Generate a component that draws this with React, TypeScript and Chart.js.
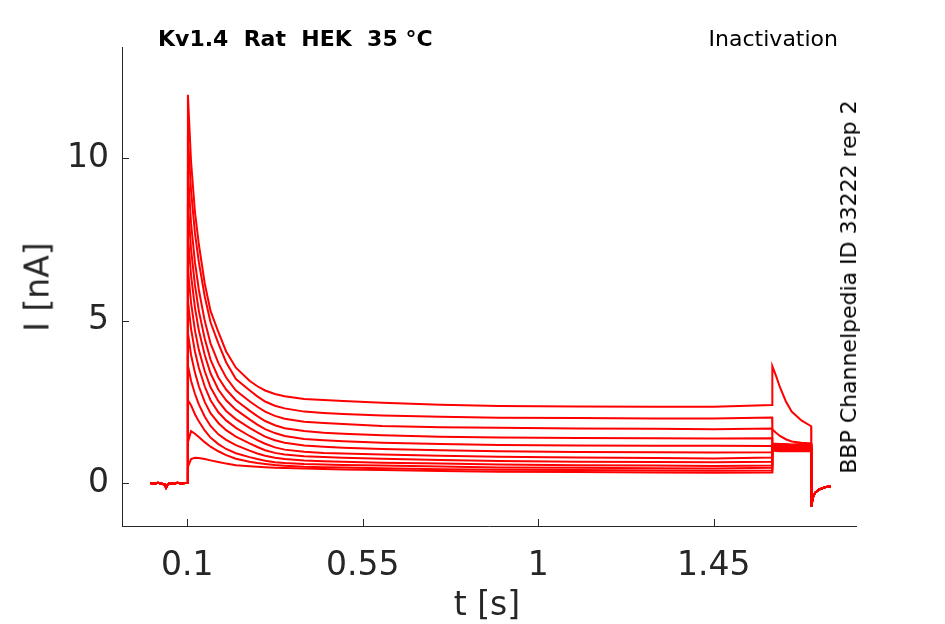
import { useEffect, useRef } from 'react';
import { Chart, registerables } from 'chart.js';

Chart.register(...registerables);

// holding level before the step (shared by all sweeps)
const baseT = [0.005, 0.015, 0.025, 0.035, 0.042, 0.046, 0.05, 0.055, 0.065, 0.075, 0.085, 0.095, 0.0995];
const baseI = [0.0, -0.02, 0.01, -0.02, -0.04, -0.14, -0.05, 0.0, -0.02, 0.01, -0.01, 0.0, 0.0];

// test step (0.1 - 1.6 s) followed by the tail step (1.6 - 1.7 s)
const stepT = [
  0.1, 0.102, 0.11, 0.12, 0.13, 0.145, 0.16, 0.18, 0.2, 0.225, 0.26, 0.28, 0.3, 0.325, 0.35, 0.4, 0.45, 0.5,
  0.6, 0.75, 0.9, 1.1, 1.3, 1.45, 1.6,
  1.6005, 1.61, 1.62, 1.635, 1.65, 1.675, 1.7,
];

const sweep01 = [0, 0.5, 0.74, 0.78, 0.77, 0.74, 0.7, 0.65, 0.6, 0.55, 0.52, 0.505, 0.49, 0.475, 0.465, 0.45, 0.435, 0.42, 0.4, 0.37, 0.35, 0.34, 0.33, 0.32, 0.33, 1.0, 0.99, 0.98, 0.98, 0.98, 0.98, 0.98];
const sweep02 = [0, 1.25, 1.6, 1.52, 1.42, 1.26, 1.12, 0.98, 0.86, 0.75, 0.66, 0.62, 0.59, 0.555, 0.535, 0.505, 0.49, 0.48, 0.46, 0.43, 0.41, 0.4, 0.39, 0.38, 0.39, 1.04, 1.03, 1.02, 1.02, 1.02, 1.02, 1.02];
const sweep03 = [0, 2.55, 2.4, 2.12, 1.9, 1.62, 1.4, 1.2, 1.05, 0.92, 0.8, 0.74, 0.69, 0.645, 0.615, 0.585, 0.57, 0.56, 0.54, 0.51, 0.48, 0.47, 0.46, 0.45, 0.47, 1.07, 1.06, 1.05, 1.05, 1.05, 1.05, 1.05];
const sweep04 = [0, 3.62, 3.15, 2.75, 2.42, 2.05, 1.76, 1.5, 1.33, 1.17, 1.0, 0.91, 0.84, 0.78, 0.74, 0.695, 0.675, 0.66, 0.63, 0.6, 0.57, 0.55, 0.54, 0.53, 0.54, 1.1, 1.09, 1.08, 1.08, 1.07, 1.08, 1.08];
const sweep05 = [0, 4.62, 3.95, 3.4, 2.98, 2.5, 2.15, 1.85, 1.63, 1.43, 1.22, 1.11, 1.01, 0.93, 0.88, 0.825, 0.8, 0.78, 0.75, 0.71, 0.68, 0.66, 0.65, 0.64, 0.66, 1.12, 1.11, 1.1, 1.1, 1.09, 1.1, 1.1];
const sweep06 = [0, 5.62, 4.75, 4.05, 3.55, 2.98, 2.55, 2.18, 1.93, 1.7, 1.45, 1.32, 1.21, 1.1, 1.03, 0.965, 0.93, 0.91, 0.88, 0.84, 0.81, 0.79, 0.77, 0.76, 0.79, 1.14, 1.13, 1.12, 1.12, 1.11, 1.12, 1.12];
const sweep07 = [0, 6.62, 5.55, 4.7, 4.1, 3.45, 2.95, 2.52, 2.22, 1.97, 1.7, 1.56, 1.43, 1.32, 1.24, 1.16, 1.12, 1.09, 1.05, 1.01, 0.98, 0.96, 0.95, 0.94, 0.95, 1.16, 1.15, 1.14, 1.14, 1.13, 1.14, 1.14];
const sweep08 = [0, 7.62, 6.4, 5.4, 4.7, 3.95, 3.38, 2.88, 2.55, 2.26, 1.96, 1.8, 1.66, 1.54, 1.45, 1.36, 1.32, 1.29, 1.24, 1.2, 1.17, 1.16, 1.15, 1.15, 1.14, 1.18, 1.17, 1.16, 1.16, 1.15, 1.16, 1.16];
const sweep09 = [0, 8.6, 7.2, 6.1, 5.3, 4.45, 3.8, 3.25, 2.88, 2.55, 2.23, 2.06, 1.91, 1.78, 1.69, 1.6, 1.55, 1.52, 1.47, 1.43, 1.4, 1.39, 1.38, 1.37, 1.38, 1.2, 1.19, 1.18, 1.18, 1.17, 1.18, 1.18];
const sweep10 = [0, 9.6, 8.0, 6.8, 5.95, 5.0, 4.3, 3.7, 3.25, 2.85, 2.52, 2.35, 2.2, 2.07, 1.98, 1.89, 1.85, 1.82, 1.76, 1.72, 1.7, 1.68, 1.67, 1.66, 1.68, 1.22, 1.21, 1.2, 1.2, 1.19, 1.2, 1.2];
const sweep11 = [0, 10.7, 9.0, 7.7, 6.8, 5.75, 4.95, 4.3, 3.72, 3.2, 2.86, 2.67, 2.51, 2.38, 2.3, 2.2, 2.16, 2.13, 2.08, 2.04, 2.01, 2.0, 1.99, 1.99, 2.02, 1.65, 1.55, 1.45, 1.35, 1.28, 1.24, 1.22];
const sweep12 = [0, 11.95, 9.9, 8.35, 7.35, 6.15, 5.3, 4.65, 4.05, 3.55, 3.15, 2.98, 2.85, 2.74, 2.67, 2.59, 2.555, 2.53, 2.47, 2.41, 2.37, 2.36, 2.35, 2.35, 2.4, 3.6, 3.3, 2.95, 2.52, 2.2, 1.93, 1.75];

const sweeps = [sweep01, sweep02, sweep03, sweep04, sweep05, sweep06, sweep07, sweep08, sweep09, sweep10, sweep11, sweep12];

// return to holding after the tail step
const offT = [1.7005, 1.704, 1.71, 1.72, 1.735, 1.75];
const offI = [-0.72, -0.45, -0.3, -0.2, -0.13, -0.1];

const xTicks = [0.1, 0.55, 1, 1.45];
const yTicks = [0, 5, 10];

const AXIS = '#262626';
const FONT = '"DejaVu Sans", sans-serif';

const inwardTicks = {
  id: 'inwardTicks',
  afterDraw(chart: any) {
    const { ctx, chartArea, scales } = chart;
    ctx.save();
    ctx.strokeStyle = AXIS;
    ctx.lineWidth = 1;
    ctx.beginPath();
    scales.x.ticks.forEach((t: any) => {
      const px = Math.round(scales.x.getPixelForValue(t.value)) + 0.5;
      ctx.moveTo(px, chartArea.bottom);
      ctx.lineTo(px, chartArea.bottom - 7);
    });
    scales.y.ticks.forEach((t: any) => {
      const py = Math.round(scales.y.getPixelForValue(t.value)) + 0.5;
      ctx.moveTo(chartArea.left, py);
      ctx.lineTo(chartArea.left + 7, py);
    });
    ctx.stroke();
    ctx.restore();
  },
};

function toPoints(values: number[]) {
  return [
    ...baseT.map((t, i) => ({ x: t, y: baseI[i] })),
    ...stepT.map((t, i) => ({ x: t, y: values[i] })),
    ...offT.map((t, i) => ({ x: t, y: offI[i] })),
  ];
}

function TraceChart() {
  const canvasRef = useRef<HTMLCanvasElement | null>(null);

  useEffect(() => {
    if (!canvasRef.current) return;

    const chart = new Chart(canvasRef.current, {
      type: 'line',
      data: {
        datasets: sweeps.map((s, i) => ({
          label: `sweep ${i + 1}`,
          data: toPoints(s),
          borderColor: '#ff0000',
          borderWidth: 2,
          pointRadius: 0,
          tension: 0,
          fill: false,
        })),
      },
      options: {
        animation: false,
        responsive: true,
        maintainAspectRatio: false,
        layout: { padding: { left: 0, top: 47, right: 89, bottom: 0 } },
        plugins: { legend: { display: false }, tooltip: { enabled: false } },
        scales: {
          x: {
            type: 'linear',
            min: -0.067,
            max: 1.815,
            grid: { display: false },
            border: { display: true, color: AXIS, width: 1 },
            afterBuildTicks: (scale: any) => {
              scale.ticks = xTicks.map((v) => ({ value: v }));
            },
            afterFit: (scale: any) => {
              scale.height = 98;
            },
            ticks: {
              color: AXIS,
              padding: 13,
              maxRotation: 0,
              font: { family: FONT, size: 33 },
              callback: (v: any) => String(v),
            },
          },
          y: {
            type: 'linear',
            min: -1.32,
            max: 13.42,
            grid: { display: false },
            border: { display: true, color: AXIS, width: 1 },
            afterBuildTicks: (scale: any) => {
              scale.ticks = yTicks.map((v) => ({ value: v }));
            },
            afterFit: (scale: any) => {
              scale.width = 122;
            },
            ticks: {
              color: AXIS,
              padding: 5,
              font: { family: FONT, size: 33 },
              callback: (v: any) => String(v),
            },
          },
        },
      },
      plugins: [inwardTicks],
    });

    return () => {
      chart.destroy();
    };
  }, []);

  return <canvas ref={canvasRef} />;
}

export default function App() {
  const text = { position: 'absolute' as const, fontFamily: FONT, lineHeight: 1, whiteSpace: 'pre' as const };
  return (
    <div style={{ position: 'fixed', left: 0, top: 0, width: 945, height: 624, background: '#fff' }}>
      <TraceChart />
      <div style={{ ...text, left: 158, top: 28, fontSize: 22, fontWeight: 'bold', color: '#000' }}>Kv1.4  Rat  HEK  35 °C</div>
      <div style={{ ...text, right: 107, top: 28, fontSize: 22, color: '#000' }}>Inactivation</div>
      <div style={{ ...text, left: 849, top: 287, fontSize: 22, color: '#000', transform: 'translate(-50%, -50%) rotate(-90deg)' }}>
        BBP Channelpedia ID 33222 rep 2
      </div>
      <div style={{ ...text, left: 37, top: 287, fontSize: 33, color: AXIS, transform: 'translate(-50%, -50%) rotate(-90deg)' }}>I [nA]</div>
      <div style={{ ...text, left: 487, top: 603, fontSize: 33, color: AXIS, transform: 'translate(-50%, -50%)' }}>t [s]</div>
    </div>
  );
}
